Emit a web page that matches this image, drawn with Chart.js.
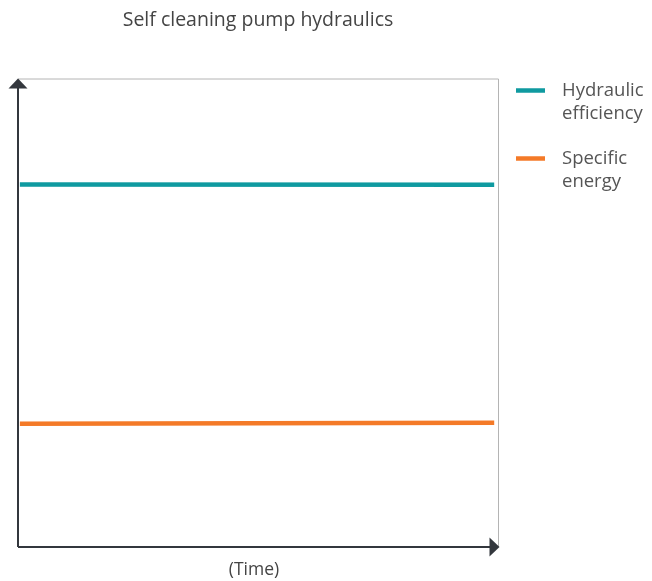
<!DOCTYPE html>
<html>
<head>
<meta charset="utf-8">
<script src="https://cdn.jsdelivr.net/npm/chart.js@4"></script>
<style>
  html, body { margin: 0; padding: 0; background: #fff; }
  #wrap { width: 652px; height: 581px; position: relative; }
</style>
</head>
<body>
<div id="wrap"><canvas id="myChart" width="652" height="581"></canvas></div>
<script>
const timePoints = [0, 1];
const hydraulicEfficiency = [77.4, 77.3];
const specificEnergy = [26.3, 26.5];
const seriesNames = [["Hydraulic", "efficiency"], ["Specific", "energy"]];
const seriesColors = ["#0f9aa0", "#f47a28"];

const axisColor = "#33373d";
const boxColor = "#b4b4b4";
const fontName = "'Open Sans'";

// arrows, light box edges, x label and the side legend
const decorations = {
  id: "decorations",
  afterDraw(chart) {
    const ctx = chart.ctx;
    const a = chart.chartArea;
    ctx.save();

    ctx.strokeStyle = boxColor;
    ctx.lineWidth = 1;
    ctx.beginPath();
    ctx.moveTo(a.left, a.top + 0.5);
    ctx.lineTo(a.right + 0.5, a.top + 0.5);
    ctx.lineTo(a.right + 0.5, a.bottom);
    ctx.stroke();

    ctx.strokeStyle = axisColor;
    ctx.lineWidth = 2;
    ctx.beginPath();
    ctx.moveTo(a.left, a.bottom);
    ctx.lineTo(a.left, a.top + 4);
    ctx.moveTo(a.left, a.bottom);
    ctx.lineTo(a.right - 4, a.bottom);
    ctx.stroke();

    ctx.fillStyle = axisColor;
    ctx.beginPath();
    ctx.moveTo(a.left, a.top);
    ctx.lineTo(a.left - 9.5, a.top + 10);
    ctx.lineTo(a.left + 9.5, a.top + 10);
    ctx.closePath();
    ctx.fill();
    ctx.beginPath();
    ctx.moveTo(a.right + 1.5, a.bottom);
    ctx.lineTo(a.right - 8.5, a.bottom - 9.5);
    ctx.lineTo(a.right - 8.5, a.bottom + 9.5);
    ctx.closePath();
    ctx.fill();

    ctx.font = "17.5px " + fontName;
    ctx.fillStyle = "#444";
    ctx.textAlign = "center";
    ctx.textBaseline = "middle";
    ctx.fillText("(Time)", (a.left + a.right) / 2 - 4, a.bottom + 23);

    const legendX = a.right + 18;
    const rows = [a.top + 12, a.top + 80];
    ctx.textAlign = "left";
    ctx.font = "18.5px " + fontName;
    ctx.fillStyle = "#555";
    rows.forEach((y, i) => {
      ctx.strokeStyle = seriesColors[i];
      ctx.lineWidth = 4.5;
      ctx.beginPath();
      ctx.moveTo(legendX, y);
      ctx.lineTo(legendX + 29, y);
      ctx.stroke();
      seriesNames[i].forEach((line, j) => {
        ctx.fillText(line, legendX + 46, y + j * 23);
      });
    });
    ctx.restore();
  },
};

const ctx = document.getElementById("myChart").getContext("2d");
const myChart = new Chart(ctx, {
  type: "line",
  data: {
    datasets: [
      {
        label: seriesNames[0].join(" "),
        data: timePoints.map((t, i) => ({ x: t, y: hydraulicEfficiency[i] })),
        borderColor: seriesColors[0],
        borderWidth: 4.5,
        pointRadius: 0,
      },
      {
        label: seriesNames[1].join(" "),
        data: timePoints.map((t, i) => ({ x: t, y: specificEnergy[i] })),
        borderColor: seriesColors[1],
        borderWidth: 4.5,
        pointRadius: 0,
      },
    ],
  },
  options: {
    responsive: false,
    animation: false,
    layout: {
      padding: { top: 0, right: 154, bottom: 34, left: 18 },
    },
    scales: {
      x: {
        type: "linear",
        min: -0.004,
        max: 1.008,
        display: false,
      },
      y: {
        type: "linear",
        min: 0,
        max: 100,
        display: false,
      },
    },
    plugins: {
      legend: { display: false },
      tooltip: { enabled: false },
      title: {
        display: true,
        text: "Self cleaning pump hydraulics",
        color: "#444",
        font: { family: "Open Sans", size: 19.5, weight: "normal" },
        padding: { top: 8.5, bottom: 46.6 },
      },
    },
  },
  plugins: [decorations],
});
</script>
</body>
</html>
